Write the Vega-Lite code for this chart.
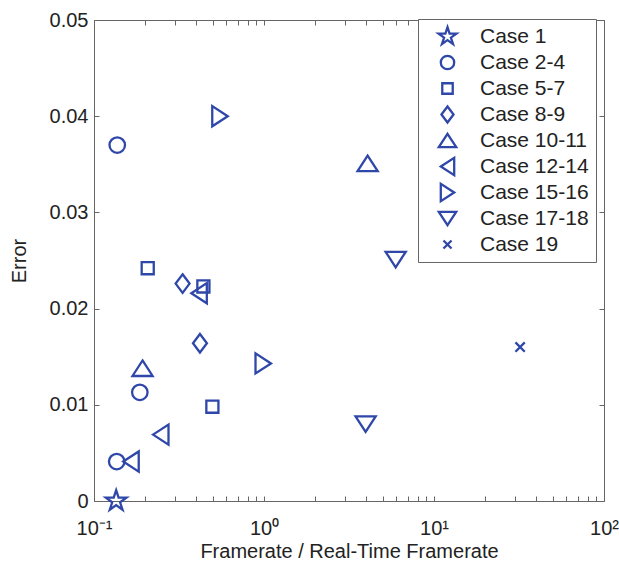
{
  "$schema": "https://vega.github.io/schema/vega-lite/v6.json",
  "width": 510,
  "height": 481,
  "autosize": {"type": "none"},
  "padding": {"left": 94, "top": 20, "right": 15, "bottom": 66},
  "background": "white",
  "config": {
    "view": {"stroke": "#666666", "strokeWidth": 1},
    "font": "Liberation Sans",
    "axis": {
      "grid": false,
      "domainColor": "#666666",
      "tickColor": "#666666",
      "labelColor": "#222222",
      "titleColor": "#222222",
      "labelFont": "Liberation Sans",
      "titleFont": "Liberation Sans",
      "labelFontSize": 20,
      "titleFontSize": 20,
      "titleFontWeight": "normal",
      "tickSize": -5,
      "labelPadding": 12
    },
    "legend": {
      "labelFont": "Liberation Sans",
      "labelFontSize": 21,
      "labelColor": "#222222"
    }
  },
  "data": {
    "values": [
      {"case": "Case 1", "ratio": 0.135, "error": 0.0},
      {"case": "Case 2-4", "ratio": 0.137, "error": 0.037},
      {"case": "Case 2-4", "ratio": 0.186, "error": 0.0113},
      {"case": "Case 2-4", "ratio": 0.136, "error": 0.0041},
      {"case": "Case 5-7", "ratio": 0.207, "error": 0.0242},
      {"case": "Case 5-7", "ratio": 0.44, "error": 0.0223},
      {"case": "Case 5-7", "ratio": 0.497, "error": 0.0098},
      {"case": "Case 8-9", "ratio": 0.332, "error": 0.0226},
      {"case": "Case 8-9", "ratio": 0.42, "error": 0.0164},
      {"case": "Case 10-11", "ratio": 0.193, "error": 0.0138},
      {"case": "Case 10-11", "ratio": 4.07, "error": 0.0351},
      {"case": "Case 12-14", "ratio": 0.415, "error": 0.0216},
      {"case": "Case 12-14", "ratio": 0.247, "error": 0.0069},
      {"case": "Case 12-14", "ratio": 0.165, "error": 0.0041},
      {"case": "Case 15-16", "ratio": 0.551, "error": 0.04},
      {"case": "Case 15-16", "ratio": 0.99, "error": 0.0143},
      {"case": "Case 17-18", "ratio": 5.95, "error": 0.0251},
      {"case": "Case 17-18", "ratio": 3.96, "error": 0.008},
      {"case": "Case 19", "ratio": 32.1, "error": 0.016}
    ]
  },
  "layer": [
    {
      "mark": {"type": "point", "filled": false, "stroke": "#2f47a8", "strokeWidth": 2.3, "size": 240, "opacity": 1},
      "encoding": {
        "x": {
          "field": "ratio",
          "type": "quantitative",
          "scale": {"type": "log", "domain": [0.1, 100], "nice": false},
          "axis": {
            "orient": "bottom",
            "title": "Framerate / Real-Time Framerate",
            "titlePadding": 3,
            "values": [0.1, 0.2, 0.3, 0.4, 0.5, 0.6, 0.7, 0.8, 0.9, 1, 2, 3, 4, 5, 6, 7, 8, 9, 10, 20, 30, 40, 50, 60, 70, 80, 90, 100],
            "labelExpr": "datum.value == 0.1 ? '10⁻¹' : datum.value == 1 ? '10⁰' : datum.value == 10 ? '10¹' : datum.value == 100 ? '10²' : ''",
            "labelOverlap": false,
            "labelFlush": false,
            "labelPadding": 22,
            "domain": false
          }
        },
        "y": {
          "field": "error",
          "type": "quantitative",
          "scale": {"domain": [0, 0.05], "nice": false, "zero": false},
          "axis": {
            "orient": "left",
            "title": "Error",
            "titlePadding": 20,
            "values": [0, 0.01, 0.02, 0.03, 0.04, 0.05],
            "format": "~g",
            "labelPadding": 11,
            "domain": false
          }
        },
        "shape": {
          "field": "case",
          "type": "nominal",
          "scale": {
            "domain": ["Case 1", "Case 2-4", "Case 5-7", "Case 8-9", "Case 10-11", "Case 12-14", "Case 15-16", "Case 17-18", "Case 19"],
            "range": [
              "M0,-1.4L0.314,-0.433L1.331,-0.433L0.508,0.165L0.823,1.133L0,0.535L-0.823,1.133L-0.508,0.165L-1.331,-0.433L-0.314,-0.433Z",
              "circle",
              "M-0.78,-0.78L0.78,-0.78L0.78,0.78L-0.78,0.78Z",
              "M0,-1.2L0.9,0L0,1.2L-0.9,0Z",
              "M0,-1L1.3,1L-1.3,1Z",
              "M-1,0L1,-1.3L1,1.3Z",
              "M1,0L-1,-1.3L-1,1.3Z",
              "M0,1L1.3,-1L-1.3,-1Z",
              "M-0.6,-0.6L0.6,0.6M-0.6,0.6L0.6,-0.6"
            ]
          },
          "legend": {
            "title": null,
            "orient": "none",
            "legendX": 324,
            "legendY": -1,
            "padding": 7,
            "strokeColor": "#666666",
            "fillColor": "white",
            "symbolSize": 180,
            "symbolStrokeWidth": 2.3,
            "symbolStrokeColor": "#2f47a8",
            "symbolOffset": 12,
            "labelOffset": 22,
            "gridAlign": "all",
            "rowPadding": -1
          }
        }
      }
    },
    {
      "mark": {"type": "point", "opacity": 0},
      "encoding": {
        "x": {
          "field": "ratio",
          "type": "quantitative",
          "axis": {
            "orient": "top",
            "title": null,
            "labels": false,
            "domain": false,
            "values": [0.1, 0.2, 0.3, 0.4, 0.5, 0.6, 0.7, 0.8, 0.9, 1, 2, 3, 4, 5, 6, 7, 8, 9, 10, 20, 30, 40, 50, 60, 70, 80, 90, 100]
          }
        },
        "y": {
          "field": "error",
          "type": "quantitative",
          "axis": {
            "orient": "right",
            "title": null,
            "labels": false,
            "domain": false,
            "values": [0, 0.01, 0.02, 0.03, 0.04, 0.05]
          }
        }
      }
    }
  ],
  "resolve": {"axis": {"x": "independent", "y": "independent"}}
}
